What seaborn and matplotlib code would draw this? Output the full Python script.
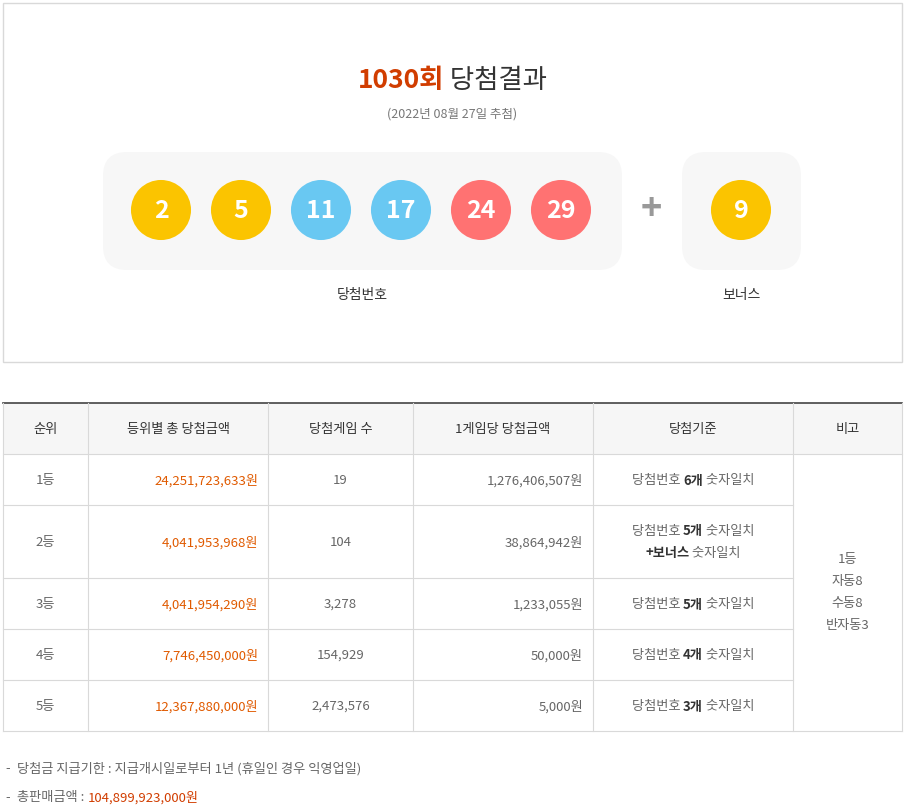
import matplotlib
matplotlib.use("Agg")
import matplotlib.pyplot as plt
import seaborn as sns
import pandas as pd
from matplotlib.patches import Rectangle, FancyBboxPatch

plt.rcParams["font.family"] = "Noto Sans CJK KR"

draw_no = "1030회"
draw_date = "(2022년 08월 27일 추첨)"
win_numbers = [2, 5, 11, 17, 24, 29]
bonus_number = 9

ranks = ["1등", "2등", "3등", "4등", "5등"]
total_prize = ["24,251,723,633원", "4,041,953,968원", "4,041,954,290원", "7,746,450,000원", "12,367,880,000원"]
winners = ["19", "104", "3,278", "154,929", "2,473,576"]
per_game = ["1,276,406,507원", "38,864,942원", "1,233,055원", "50,000원", "5,000원"]
match_count = ["6개", "5개", "5개", "4개", "3개"]
headers = ["순위", "등위별 총 당첨금액", "당첨게임 수", "1게임당 당첨금액", "당첨기준", "비고"]
remarks = ["1등", "자동8", "수동8", "반자동3"]
notes = ["당첨금 지급기한 : 지급개시일로부터 1년 (휴일인 경우 익영업일)", "총판매금액 : "]
total_sales = "104,899,923,000원"


def ball_color(n):
    if n <= 10:
        return "#fbc400"
    if n <= 20:
        return "#69c8f2"
    if n <= 30:
        return "#ff7272"
    if n <= 40:
        return "#aaaaaa"
    return "#b0d840"


fig = plt.figure(figsize=(9.05, 8.10), dpi=100)
ax = fig.add_axes([0, 0, 1, 1])
ax.set_xlim(0, 905)
ax.set_ylim(810, 0)
ax.axis("off")
renderer = fig.canvas.get_renderer()
DARK = "#333333"
GREY = "#666666"
ORANGE = "#e05a00"
LINE = "#d9d9d9"


def pieces(x, y, parts, ha="center", size=9.5):
    # parts: list of (text, color, weight); draws them inline
    objs = [ax.text(0, y, t, color=c, fontweight=w, fontsize=size, va="center") for t, c, w in parts]
    widths = [o.get_window_extent(renderer).width for o in objs]
    total = sum(widths)
    start = x - total / 2 if ha == "center" else (x - total if ha == "right" else x)
    for o, w in zip(objs, widths):
        o.set_x(start)
        start += w


# top box
ax.add_patch(Rectangle((3, 3), 899, 359, fill=False, ec=LINE, lw=1))
pieces(452, 80, [(draw_no, "#d13d00", "bold"), (" 당첨결과", DARK, "normal")], size=19)
ax.text(452, 114, draw_date, ha="center", va="center", fontsize=9, color="#777777")

ax.add_patch(FancyBboxPatch((103, 152), 519, 118, boxstyle="round,pad=0,rounding_size=24",
                            fc="#f7f7f7", ec="none"))
ax.add_patch(FancyBboxPatch((682, 152), 119, 118, boxstyle="round,pad=0,rounding_size=24",
                            fc="#f7f7f7", ec="none"))

balls = pd.DataFrame({
    "num": win_numbers + [bonus_number],
    "x": [161 + i * 80 for i in range(len(win_numbers))] + [741],
})
balls["y"] = 210
sns.scatterplot(data=balls, x="x", y="y", hue="num", palette={n: ball_color(n) for n in balls["num"]},
                s=1870, linewidth=0, legend=False, ax=ax, zorder=3)
for _, r in balls.iterrows():
    ax.text(r["x"], r["y"] + 1, str(r["num"]), ha="center", va="center", color="white",
            fontsize=18, fontweight="bold", zorder=4)
ax.text(651, 209, "+", ha="center", va="center", fontsize=26, color="#999999", fontweight="bold")
ax.text(362, 295, "당첨번호", ha="center", va="center", fontsize=10, color=DARK)
ax.text(741, 295, "보너스", ha="center", va="center", fontsize=10, color=DARK)

# table
cols = [3, 88, 268, 413, 593, 793, 902]
rows = [403, 454, 505, 578, 629, 680, 731]
ax.add_patch(Rectangle((3, 403), 899, 51, fc="#f6f6f6", ec="none"))
for y in rows[1:]:
    ax.plot([3, 793 if y not in (454, 731) else 902], [y, y], color=LINE, lw=0.8)
ax.plot([3, 902], [403, 403], color="#444444", lw=1.2)
for x in cols:
    ax.plot([x, x], [403, 731], color=LINE, lw=0.8)
for i, h in enumerate(headers):
    ax.text((cols[i] + cols[i + 1]) / 2, 429.5, h, ha="center", va="center", fontsize=9.5, color=DARK)

for i in range(len(ranks)):
    yc = (rows[i + 1] + rows[i + 2]) / 2 + 1
    ax.text(45.5, yc, ranks[i], ha="center", va="center", fontsize=9.5, color=GREY)
    ax.text(258, yc, total_prize[i], ha="right", va="center", fontsize=9.5, color=ORANGE)
    ax.text(340.5, yc, winners[i], ha="center", va="center", fontsize=9.5, color=GREY)
    ax.text(583, yc, per_game[i], ha="right", va="center", fontsize=9.5, color=GREY)
    if i == 1:
        pieces(693, yc - 11, [("당첨번호 ", GREY, "normal"), (match_count[i], DARK, "bold"),
                              (" 숫자일치", GREY, "normal")])
        pieces(693, yc + 11, [("+보너스", DARK, "bold"), (" 숫자일치", GREY, "normal")])
    else:
        pieces(693, yc, [("당첨번호 ", GREY, "normal"), (match_count[i], DARK, "bold"),
                         (" 숫자일치", GREY, "normal")])
for j, t in enumerate(remarks):
    ax.text(847.5, 560 + j * 22, t, ha="center", va="center", fontsize=9.5, color=GREY)

ax.text(5, 769, "-", va="center", fontsize=9.5, color=GREY)
ax.text(17, 769, notes[0], va="center", fontsize=9.5, color=GREY)
ax.text(5, 798, "-", va="center", fontsize=9.5, color=GREY)
pieces(17, 798, [(notes[1], GREY, "normal"), (total_sales, "#d13d00", "normal")], ha="left")

fig.savefig("out.png", dpi=100)
